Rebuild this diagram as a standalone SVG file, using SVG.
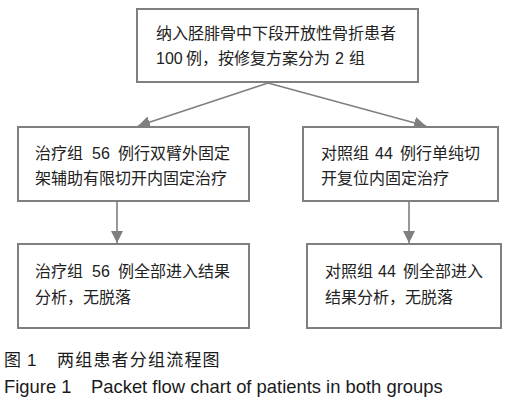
<svg xmlns="http://www.w3.org/2000/svg" width="509" height="404" viewBox="0 0 509 404">
<style>
.box{fill:#fff;stroke:#7f7f7f;stroke-width:2}
.t{font-family:"Liberation Sans","Noto Sans CJK SC",sans-serif;font-size:16px;fill:#222}
.c{font-family:"Liberation Sans","Noto Sans CJK SC",sans-serif;fill:#1a1a1a}
.ln{stroke:#7f7f7f;stroke-width:1.6;fill:none}
</style>
<defs>
<marker id="ah" markerUnits="userSpaceOnUse" markerWidth="14" markerHeight="12" refX="12" refY="6" orient="auto">
<path d="M0,0 L12,6 L0,12 Z" fill="#7f7f7f"/>
</marker>
</defs>
<rect width="509" height="404" fill="#fff"/>
<g id="connectors">
<line class="ln" x1="268" y1="83" x2="138" y2="126" marker-end="url(#ah)"/>
<line class="ln" x1="268" y1="83" x2="426" y2="126" marker-end="url(#ah)"/>
<line class="ln" x1="117" y1="201" x2="117" y2="243" marker-end="url(#ah)"/>
<line class="ln" x1="409" y1="201" x2="409" y2="243" marker-end="url(#ah)"/>
</g>
<g id="n_top">
<rect class="box" x="137" y="9" width="281" height="73"/>
<text class="t" x="156" y="39">纳入胫腓骨中下段开放性骨折患者</text>
<text class="t" y="64"><tspan x="156">100</tspan><tspan x="186">例，按修复方案分为</tspan><tspan x="335">2</tspan><tspan x="349">组</tspan></text>
</g>
<g id="n_treat">
<rect class="box" x="18" y="127" width="231" height="74"/>
<text class="t" y="159"><tspan x="35">治疗组</tspan><tspan x="92">56</tspan><tspan x="118">例行双臂外固定</tspan></text>
<text class="t" x="35" y="184">架辅助有限切开内固定治疗</text>
</g>
<g id="n_ctrl">
<rect class="box" x="303" y="127" width="195" height="74"/>
<text class="t" y="159"><tspan x="321">对照组</tspan><tspan x="375">44</tspan><tspan x="400">例行单纯切</tspan></text>
<text class="t" x="321" y="184">开复位内固定治疗</text>
</g>
<g id="n_treat_res">
<rect class="box" x="18" y="244" width="231" height="84"/>
<text class="t" y="277"><tspan x="35">治疗组</tspan><tspan x="92">56</tspan><tspan x="118">例全部进入结果</tspan></text>
<text class="t" x="35" y="303">分析，无脱落</text>
</g>
<g id="n_ctrl_res">
<rect class="box" x="307" y="244" width="194" height="84"/>
<text class="t" y="277"><tspan x="325">对照组</tspan><tspan x="378">44</tspan><tspan x="403">例全部进入</tspan></text>
<text class="t" x="325" y="303">结果分析，无脱落</text>
</g>
<g id="caption">
<text class="c" y="366" font-size="17"><tspan x="4">图</tspan><tspan x="27">1</tspan><tspan x="57" letter-spacing="1.2">两组患者分组流程图</tspan></text>
<text class="c" y="393" font-size="18.4"><tspan x="4">Figure 1</tspan><tspan x="91">Packet flow chart of patients in both groups</tspan></text>
</g>
</svg>
